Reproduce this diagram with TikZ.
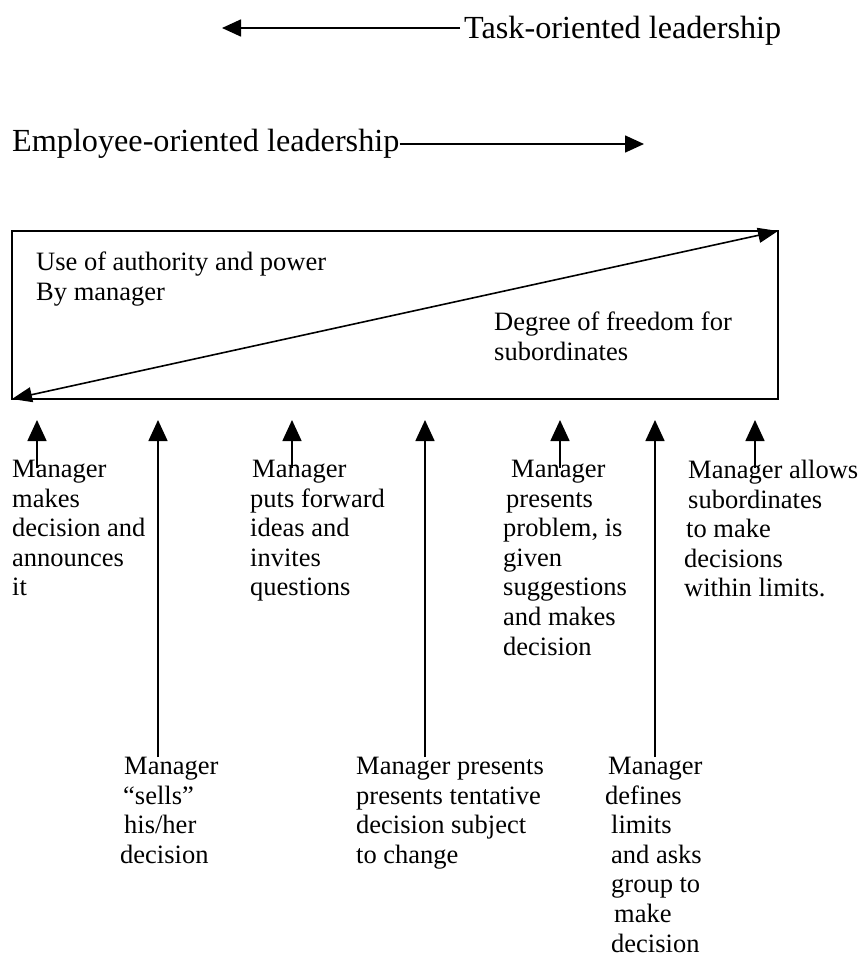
\documentclass[tikz,border=0pt]{standalone}
\usepackage{fontspec}
\setmainfont{Liberation Serif}
\usetikzlibrary{arrows.meta}

\tikzset{
  head/.style={font=\fontsize{32.2}{38}\selectfont, inner sep=0pt},
  txt/.style={font=\fontsize{26.5}{29.6}\selectfont, align=left, inner sep=0pt, anchor=north west},
  up/.style={-{Triangle[length=21pt,width=19pt]}, line width=1.6pt},
  side/.style={-{Triangle[length=19pt,width=17pt]}, line width=1.6pt},
}

\begin{document}
\begin{tikzpicture}[x=1pt,y=-1pt]
\useasboundingbox (0,0) rectangle (864,958);

\node[head, anchor=base west] (task) at (464,38) {Task-oriented leadership};
\node[head, anchor=base west] (employee) at (12,151) {Employee-oriented leadership};
\coordinate (tasktip) at (222,28);
\coordinate (employeetip) at (644,144);
\draw[side] ([xshift=-4pt]tasktip -| task.west) -- (tasktip);
\draw[side] (employeetip -| employee.east) -- (employeetip);

\node[draw, line width=1.4pt, minimum width=766pt, minimum height=168pt, inner sep=0pt, outer sep=0pt, anchor=north west] (box) at (12,231) {};
\draw[{Triangle[length=20pt,width=15pt]}-{Triangle[length=20pt,width=15pt]}, line width=1.6pt] (box.south west) -- (box.north east);
\node[txt] (power) at (36,252) {Use of authority and power\\By manager};
\node[txt] (freedom) at (494,312) {Degree of freedom for\\subordinates};

\coordinate (t1) at (37,420);
\coordinate (t2) at (158,420);
\coordinate (t3) at (292,420);
\coordinate (t4) at (425,420);
\coordinate (t5) at (560,420);
\coordinate (t6) at (655,420);
\coordinate (t7) at (755,420);

\node[txt] (l1) at (12,460) {Manager\\makes\\decision and\\announces\\it};
\node[txt] (l2) at (120,757) {\hspace*{4pt}Manager\\\hspace*{3pt}“sells”\\\hspace*{4pt}his/her\\decision};
\node[txt] (l3) at (250,460) {\hspace*{2pt}Manager\\puts forward\\ideas and\\invites\\questions};
\node[txt] (l4) at (356,757) {Manager presents\\presents tentative\\decision subject\\to change};
\node[txt] (l5) at (503,460) {\hspace*{8pt}Manager\\\hspace*{3pt}presents\\problem, is\\given\\suggestions\\and makes\\decision};
\node[txt] (l6) at (605,757) {\hspace*{3pt}Manager\\defines\\\hspace*{6pt}limits\\\hspace*{6pt}and asks\\\hspace*{6pt}group to\\\hspace*{9pt}make\\\hspace*{6pt}decision};
\node[txt] (l7) at (684,460) {\hspace*{4pt}Manager allows\\\hspace*{4pt}subordinates\\\hspace*{2pt}to make\\decisions\\within limits.};

\draw[up] ([yshift=-8pt]l1.north -| t1) -- (t1);
\draw[up] (l2.north -| t2) -- (t2);
\draw[up] ([yshift=-8pt]l3.north -| t3) -- (t3);
\draw[up] (l4.north -| t4) -- (t4);
\draw[up] ([yshift=-8pt]l5.north -| t5) -- (t5);
\draw[up] (l6.north -| t6) -- (t6);
\draw[up] ([yshift=-8pt]l7.north -| t7) -- (t7);
\end{tikzpicture}
\end{document}
